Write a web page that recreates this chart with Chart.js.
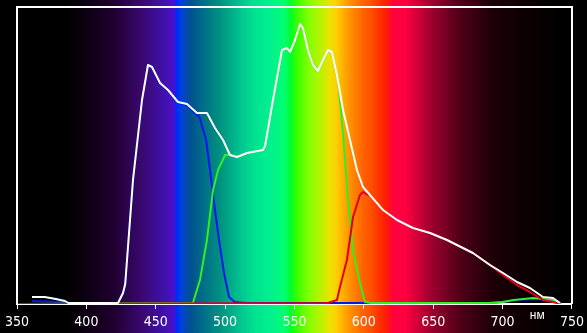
<!DOCTYPE html>
<html><head><meta charset="utf-8">
<script src="https://cdn.jsdelivr.net/npm/chart.js@4.4.1/dist/chart.umd.min.js"></script>
<style>html,body{margin:0;padding:0;background:#000;}#wrap{width:587px;height:333px;position:relative;}</style>
</head><body><div id="wrap"><canvas id="c"></canvas></div>
<script>
// wavelength ticks
const xTicks = [350,400,450,500,550,600,650,700,750];
const unitLabel = "нм";
// total (white)
const whiteNm = [360.8,370,378,384.6,387,422.8,426.4,428,433.6,440.1,444.4,447.3,453.1,458.8,466,472.5,479.7,486.9,492.7,498.5,503.5,508.6,515.8,527.3,528.8,534.5,541,544.6,546.8,550.4,554,556.1,559.7,563.3,566.9,570.5,574.1,577,580.6,585,590,595,599.4,604.4,613.8,623.9,635.4,647.7,659.9,671.4,678.6,690.9,700.3,710.4,719.7,729.1,736.3,741.3];
const whiteVal = [7,7,5,3,1,1,11,20,124,204,239,237,221,214,202,200,191,191,176,164,149,147,151,154,158,204,254,256,252,264,280,276,254,239,233,244,254,252,229,194,164,134,117,109,94,84,76,71,64,56,51,39,31,22,16,7,6,1];
// blue channel
const blueNm = [360.8,384.6,387,422.8,426.4,428,433.6,440.1,444.4,447.3,453.1,458.8,466,472.5,479.7,481.5,486.3,490,492.7,495.6,499.2,502.8,507,515,600,690,700.3,710.4,724.8,738.5,742];
const blueVal = [3,2,1,1,10,19,123,203,238,236,220,213,201,199,189,187,164,124,94,64,31,7,2,1,1,1,2,4,5,2,0];
// green channel
const greenNm = [350,476.8,481.9,486.9,491.3,494.9,500,503.5,508.6,515.8,527.3,528.8,534.5,541,544.6,546.8,550.4,554,556.1,559.7,563.3,566.9,570.5,574.1,577,581.4,585,588.6,592.2,597.2,600.8,605,690,700,708,722,736,742];
const greenVal = [0,1,24,64,114,134,149,149,147,151,154,158,204,254,256,252,264,280,276,254,239,233,244,254,252,224,171,104,54,21,2,1,1,2,4,6,4,0];
// red channel
const redNm = [350,574.1,580.6,582.8,587.8,592.2,597.2,599.4,603,604.4,613.8,623.9,635.4,647.7,659.9,671.4,678.6,690.9,700.3,710.4,719.7,729.1,736.3,741.3];
const redVal = [0,1,4,17,44,87,109,112,109,109,94,84,76,71,64,56,51,39,29,19,12,4,2,0];

const spectrumStops = [[350,'#000000'],[385,'#000000'],[400,'#0d0012'],[420,'#200030'],[440,'#3a0870'],[455,'#4010a8'],[463,'#4a10cc'],[465,'#0028ff'],[468,'#0040e0'],[475,'#005090'],[485,'#007088'],[496,'#009080'],[510,'#00c090'],[520,'#00e090'],[532,'#00f090'],[543,'#00ff70'],[547,'#00ff30'],[551,'#30ff00'],[560,'#80ff00'],[570,'#c0f000'],[576,'#f0e000'],[580,'#ffd000'],[590,'#ff9000'],[600,'#ff6000'],[605,'#ff5000'],[615,'#ff2000'],[622,'#ff0040'],[630,'#ff0040'],[648,'#a00030'],[669,'#500018'],[691,'#200008'],[710,'#100004'],[727,'#080000'],[740,'#000000']];

const pts = (xs,ys)=>xs.map((x,i)=>({x:x,y:ys[i]}));

const bgPlugin = {
  id:'spectrum',
  beforeDraw(chart){
    const {ctx, width, height} = chart;
    const xs = chart.scales.x;
    const x0 = xs.getPixelForValue(350), x1 = xs.getPixelForValue(750);
    const g = ctx.createLinearGradient(x0,0,x1,0);
    spectrumStops.forEach(([nm,c])=>g.addColorStop((nm-350)/400,c));
    ctx.save();
    ctx.fillStyle = g;
    ctx.fillRect(0,0,width,height);
    ctx.restore();
  },
  afterDraw(chart){
    const {ctx, chartArea:a} = chart;
    const xs = chart.scales.x;
    ctx.save();
    ctx.strokeStyle = '#ffffff';
    ctx.lineWidth = 2;
    ctx.beginPath();
    ctx.moveTo(a.left, a.bottom);
    ctx.lineTo(a.left, a.top);
    ctx.lineTo(a.right, a.top);
    ctx.lineTo(a.right, a.bottom);
    ctx.stroke();
    ctx.fillStyle = '#ffffff';
    ctx.font = '12px "Liberation Sans", Arial, sans-serif';
    ctx.textAlign = 'center';
    ctx.textBaseline = 'middle';
    ctx.fillText(unitLabel, xs.getPixelForValue(725), a.bottom + 12);
    ctx.restore();
  }
};

new Chart(document.getElementById('c'), {
  type:'line',
  data:{datasets:[
    {data:pts(whiteNm,whiteVal), borderColor:'#ffffff', borderWidth:2},
    {data:pts(redNm,redVal), borderColor:'#e00018', borderWidth:2},
    {data:pts(greenNm,greenVal), borderColor:'#30f020', borderWidth:2},
    {data:pts(blueNm,blueVal), borderColor:'#0018f0', borderWidth:2}
  ]},
  options:{
    responsive:true, maintainAspectRatio:false, animation:false,
    elements:{point:{radius:0}, line:{tension:0, borderJoinStyle:'round'}},
    layout:{padding:{left:17,right:15,top:7,bottom:0}},
    plugins:{legend:{display:false}, tooltip:{enabled:false}},
    scales:{
      x:{type:'linear', min:350, max:750,
        afterBuildTicks(s){ s.ticks = xTicks.map(v=>({value:v})); },
        afterFit(s){ s.height = 29; },
        border:{display:true, color:'#ffffff', width:2},
        grid:{display:true, drawOnChartArea:false, drawTicks:true, tickLength:5, color:'#ffffff', lineWidth:1},
        ticks:{color:'#ffffff', padding:3, maxRotation:0, autoSkip:false,
          font:{family:'"Liberation Sans Narrow", "DejaVu Sans Condensed", Arial, sans-serif', size:14, lineHeight:1.5}}
      },
      y:{display:false, min:0, max:297}
    }
  },
  plugins:[bgPlugin]
});
</script></body></html>
